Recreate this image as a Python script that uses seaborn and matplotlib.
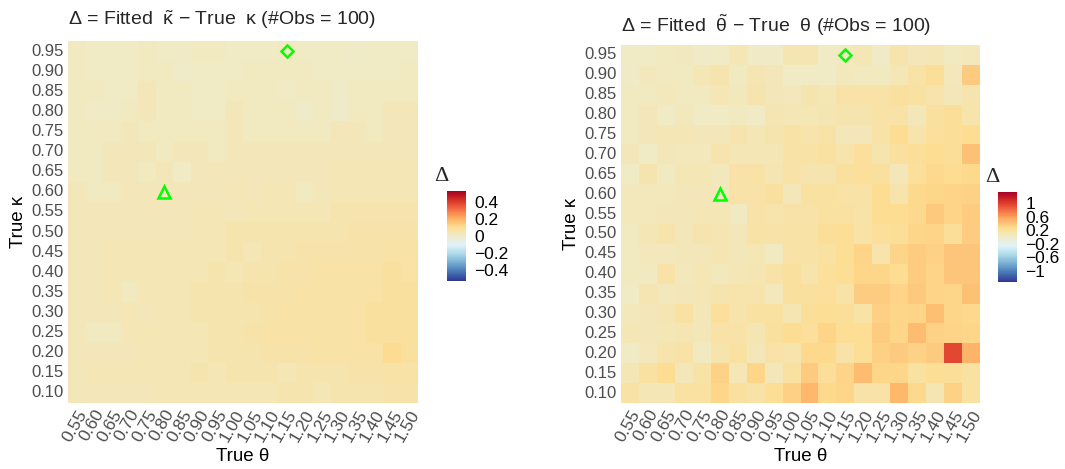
import numpy as np
import pandas as pd
import matplotlib
matplotlib.use("Agg")
import matplotlib.pyplot as plt
import seaborn as sns
from matplotlib.colors import LinearSegmentedColormap

sns.set_theme(style="white")
plt.rcParams['font.family'] = ['Liberation Sans', 'DejaVu Sans']
plt.rcParams['mathtext.fontset'] = 'custom'
plt.rcParams['mathtext.rm'] = 'Liberation Sans'
plt.rcParams['mathtext.it'] = 'Liberation Sans:italic'
plt.rcParams['mathtext.bf'] = 'Liberation Sans:bold'

theta = [0.55, 0.60, 0.65, 0.70, 0.75, 0.80, 0.85, 0.90, 0.95, 1.00,
         1.05, 1.10, 1.15, 1.20, 1.25, 1.30, 1.35, 1.40, 1.45, 1.50]
kappa = [0.95, 0.90, 0.85, 0.80, 0.75, 0.70, 0.65, 0.60, 0.55, 0.50,
         0.45, 0.40, 0.35, 0.30, 0.25, 0.20, 0.15, 0.10]
theta_labels = [f"{t:.2f}" for t in theta]
kappa_labels = [f"{k:.2f}" for k in kappa]

# Delta = fitted kappa - true kappa (rows: kappa 0.95 -> 0.10)
delta_kappa = [
    [0.02,0.01,0.01,0.01,0.02,0.01,0.01,0.02,0.02,0.01,0.01,0.01,0.02,0.01,0.01,0.01,0.00,0.01,0.01,0.01],
    [0.02,0.01,0.01,0.01,0.02,0.02,0.00,0.01,0.01,0.01,0.02,0.02,0.02,0.02,0.01,0.01,0.01,0.01,0.01,0.02],
    [0.02,0.02,0.01,0.01,0.03,0.02,0.02,0.01,0.01,0.02,0.02,0.02,0.01,0.02,0.02,0.00,0.02,0.02,0.02,0.02],
    [0.02,0.01,0.01,0.02,0.03,0.02,0.02,0.01,0.01,0.03,0.02,0.02,0.02,0.00,0.02,0.00,0.02,0.02,0.03,0.03],
    [0.02,0.02,0.02,0.03,0.02,0.02,0.02,0.02,0.02,0.03,0.02,0.02,0.02,0.02,0.02,0.03,0.03,0.02,0.03,0.03],
    [0.02,0.02,0.03,0.03,0.03,0.02,0.03,0.03,0.02,0.03,0.03,0.03,0.03,0.03,0.03,0.03,0.03,0.03,0.03,0.03],
    [0.02,0.02,0.03,0.03,0.02,0.03,0.01,0.03,0.03,0.03,0.03,0.03,0.03,0.03,0.03,0.04,0.04,0.04,0.04,0.04],
    [0.03,0.02,0.02,0.03,0.03,0.03,0.03,0.03,0.03,0.04,0.03,0.04,0.04,0.02,0.03,0.04,0.04,0.04,0.04,0.04],
    [0.03,0.03,0.03,0.03,0.03,0.03,0.03,0.04,0.04,0.03,0.04,0.04,0.04,0.04,0.04,0.05,0.05,0.05,0.05,0.05],
    [0.03,0.03,0.03,0.03,0.03,0.03,0.03,0.04,0.04,0.05,0.05,0.05,0.05,0.05,0.05,0.05,0.06,0.06,0.06,0.06],
    [0.03,0.03,0.04,0.04,0.04,0.04,0.04,0.04,0.04,0.05,0.04,0.05,0.05,0.06,0.06,0.06,0.06,0.06,0.07,0.07],
    [0.03,0.03,0.04,0.04,0.04,0.04,0.04,0.04,0.05,0.04,0.05,0.05,0.06,0.06,0.07,0.07,0.07,0.07,0.08,0.07],
    [0.03,0.03,0.04,0.02,0.04,0.04,0.04,0.05,0.05,0.05,0.06,0.06,0.06,0.07,0.07,0.07,0.07,0.07,0.08,0.08],
    [0.03,0.03,0.03,0.04,0.03,0.04,0.04,0.05,0.05,0.05,0.05,0.06,0.07,0.07,0.07,0.07,0.07,0.08,0.08,0.08],
    [0.03,0.02,0.02,0.04,0.04,0.04,0.04,0.04,0.05,0.05,0.06,0.07,0.07,0.07,0.07,0.07,0.07,0.08,0.08,0.08],
    [0.03,0.03,0.03,0.03,0.04,0.04,0.04,0.04,0.05,0.05,0.05,0.06,0.06,0.06,0.07,0.07,0.07,0.07,0.11,0.08],
    [0.03,0.04,0.04,0.04,0.04,0.04,0.04,0.05,0.04,0.05,0.05,0.05,0.04,0.05,0.05,0.05,0.06,0.06,0.07,0.07],
    [0.03,0.03,0.03,0.03,0.03,0.04,0.04,0.04,0.04,0.04,0.04,0.04,0.05,0.05,0.04,0.05,0.05,0.05,0.06,0.06],
]

# Delta = fitted theta - true theta
delta_theta = [
    [0.03,0.03,0.05,0.06,0.02,0.03,0.10,0.02,0.02,0.11,0.11,0.03,0.05,0.10,0.02,0.14,0.08,0.10,0.05,0.07],
    [0.02,0.07,0.05,0.05,0.10,0.13,0.05,0.11,0.08,0.03,0.03,0.03,0.07,0.05,0.05,0.10,0.17,0.23,0.07,0.37],
    [0.05,0.05,0.07,0.05,0.05,0.10,0.07,0.13,0.08,0.07,0.13,0.10,0.16,0.16,0.16,0.20,0.19,0.14,0.08,0.13],
    [0.05,0.08,0.03,0.07,0.03,0.03,0.05,0.03,0.11,0.10,0.10,0.11,0.13,0.13,0.17,0.16,0.08,0.20,0.23,0.14],
    [0.05,0.08,0.10,0.10,0.08,0.08,0.13,0.10,0.13,0.17,0.14,0.17,0.08,0.08,0.17,0.26,0.14,0.22,0.23,0.26],
    [0.08,0.03,0.08,0.07,0.07,0.14,0.10,0.10,0.10,0.17,0.17,0.19,0.14,0.22,0.13,0.20,0.23,0.26,0.23,0.42],
    [0.03,0.13,0.05,0.10,0.10,0.07,0.16,0.17,0.11,0.16,0.13,0.13,0.20,0.22,0.20,0.08,0.22,0.28,0.26,0.28],
    [0.07,0.07,0.07,0.08,0.08,0.07,0.16,0.16,0.20,0.08,0.19,0.19,0.17,0.17,0.26,0.14,0.28,0.30,0.31,0.32],
    [0.07,0.07,0.08,0.08,0.10,0.10,0.05,0.16,0.14,0.16,0.16,0.19,0.19,0.17,0.26,0.26,0.28,0.38,0.31,0.36],
    [0.05,0.10,0.14,0.08,0.13,0.11,0.08,0.17,0.16,0.17,0.17,0.23,0.25,0.17,0.22,0.23,0.30,0.31,0.23,0.36],
    [0.05,0.07,0.07,0.08,0.08,0.11,0.08,0.10,0.05,0.17,0.17,0.19,0.25,0.31,0.14,0.31,0.36,0.32,0.40,0.40],
    [0.05,0.05,0.16,0.07,0.10,0.07,0.10,0.11,0.16,0.20,0.14,0.22,0.25,0.30,0.30,0.26,0.36,0.31,0.40,0.40],
    [0.03,0.11,0.07,0.08,0.10,0.13,0.14,0.14,0.07,0.20,0.20,0.22,0.17,0.36,0.36,0.31,0.38,0.31,0.30,0.42],
    [0.07,0.08,0.11,0.19,0.08,0.22,0.14,0.19,0.19,0.11,0.23,0.25,0.23,0.17,0.34,0.30,0.31,0.43,0.30,0.28],
    [0.10,0.08,0.10,0.11,0.08,0.16,0.16,0.11,0.20,0.26,0.22,0.31,0.25,0.25,0.36,0.30,0.45,0.32,0.31,0.30],
    [0.03,0.07,0.14,0.17,0.05,0.14,0.19,0.08,0.16,0.14,0.28,0.28,0.16,0.25,0.34,0.37,0.32,0.37,0.95,0.49],
    [0.10,0.19,0.26,0.08,0.17,0.32,0.10,0.30,0.08,0.19,0.37,0.23,0.31,0.45,0.30,0.30,0.19,0.25,0.23,0.19],
    [0.17,0.10,0.10,0.19,0.19,0.30,0.20,0.16,0.25,0.34,0.47,0.28,0.30,0.16,0.16,0.47,0.28,0.11,0.32,0.19],
]

# highlighted (theta, kappa) points
triangle_pt = (0.80, 0.60)
diamond_pt = (1.15, 0.95)

lim_kappa = 0.53
lim_theta = 1.32
ticks_kappa = [-0.4, -0.2, 0, 0.2, 0.4]
ticks_theta = [-1, -0.6, -0.2, 0.2, 0.6, 1]

cols = ['#313695', '#4575B4', '#74ADD1', '#ABD9E9', '#E0F3F8', '#EFEBCA',
        '#FDDD92', '#FDAE61', '#F46D43', '#D73027', '#A50026']
cmap = LinearSegmentedColormap.from_list("rdylbu_r", cols)

fig = plt.figure(figsize=(10.65, 4.69), dpi=100)

def fmt(v):
    s = f"{v:g}"
    return s.replace("-", "\u2212")

def panel(ax_rect, cax_rect, data, lim, ticks, title, title_y):
    ax = fig.add_axes(ax_rect)
    cax = fig.add_axes(cax_rect)
    df = pd.DataFrame(data, index=kappa_labels, columns=theta_labels)
    sns.heatmap(df, ax=ax, cmap=cmap, vmin=-lim, vmax=lim, cbar_ax=cax,
                linewidths=0, square=False)
    ax.set_xticks(np.arange(len(theta)) + 0.5)
    ax.set_xticklabels(theta_labels, rotation=60, ha='right', rotation_mode='anchor',
                       fontsize=12.5, color='#4D4D4D')
    ax.set_yticks(np.arange(len(kappa)) + 0.5)
    ax.set_yticklabels(kappa_labels, rotation=0, fontsize=12, color='#4D4D4D')
    ax.tick_params(axis='both', length=0, pad=3)
    ax.set_xlabel("True \u03b8", fontsize=13.5, color='black', labelpad=3)
    ax.set_ylabel("True \u03ba", fontsize=13.5, color='black', labelpad=3)
    for sp in ax.spines.values():
        sp.set_visible(False)
    # markers
    for (t, k), mk, ms in [(triangle_pt, '^', 8), (diamond_pt, 'D', 6.5)]:
        xi = theta.index(t) + 0.5
        yi = kappa.index(k) + 0.5
        ax.plot([xi], [yi], marker=mk, markersize=ms, mfc='none', mec='#00FF00',
                mew=1.8, linestyle='none')
    # colorbar
    cax.set_yticks(ticks)
    cax.set_yticklabels([fmt(t) for t in ticks], fontsize=12.5, color='black')
    cax.tick_params(axis='y', left=True, right=True, labelleft=False, labelright=True,
                    direction='in', color='white', length=3, width=0.8, pad=6)
    for sp in cax.spines.values():
        sp.set_visible(False)
    fig.text(cax_rect[0] - 0.012, cax_rect[1] + cax_rect[3] + 0.03, "\u0394",
             fontsize=16, family='Liberation Serif', ha='left', va='center')
    fig.text(ax_rect[0], title_y, title, fontsize=14, ha='left', va='center')
    return ax

panel([68/1065, 66/469, 350/1065, 362/469], [447/1065, 188/469, 19/1065, 90/469],
      delta_kappa, lim_kappa, ticks_kappa,
      r"$\Delta$ = Fitted  $\tilde{\mathrm{\kappa}}$ $-$ True  $\mathrm{\kappa}$ (#Obs = 100)", 1 - 20/469)
panel([621/1065, 66/469, 359/1065, 358/469], [998/1065, 187/469, 19/1065, 90/469],
      delta_theta, lim_theta, ticks_theta,
      r"$\Delta$ = Fitted  $\tilde{\mathrm{\theta}}$ $-$ True  $\mathrm{\theta}$ (#Obs = 100)", 1 - 25/469)

fig.savefig("out.png", dpi=100, facecolor='white')
